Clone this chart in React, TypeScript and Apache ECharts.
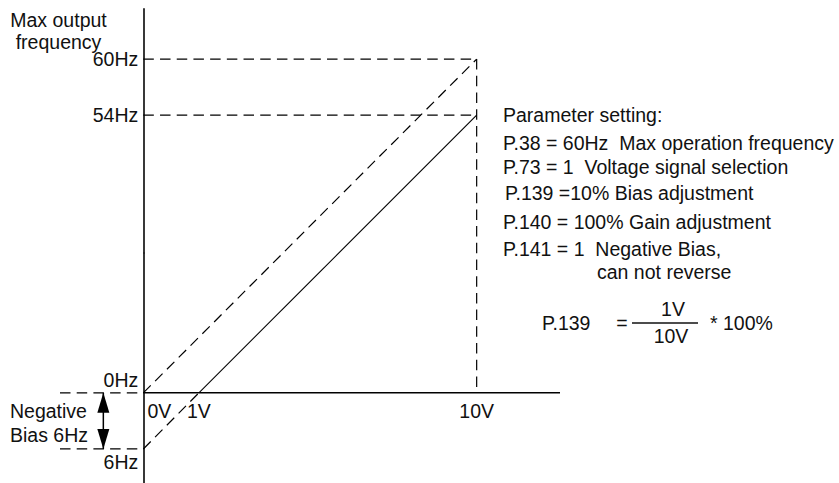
import React, { useEffect, useRef } from 'react';
import * as echarts from 'echarts';

// ---- data (values read from the schematic) ----
const voltTicks = [0, 1, 10];
const voltLabels = ['0V', '1V', '10V'];
const freqTicks = [60, 54, 0, -6];
const freqLabels = ['60Hz', '54Hz', '0Hz', '6Hz'];

// dashed reference: 0V -> 0Hz ... 10V -> 60Hz (max output frequency)
const maxFreqLine = [[0, 0], [10, 60]];
// solid output with negative bias: 1V -> 0Hz ... 10V -> 54Hz
const outputLine = [[1, 0], [10, 54]];
// dashed extension of the output line down to -6Hz at 0V
const biasExtension = [[0, -6], [1, 0]];
// dashed guide lines
const guide60 = [[0, 60], [10, 60]];
const guide54 = [[0, 54], [10, 54]];
const guide10V = [[10, 60], [10, 0]];

const axisTitle = ['Max output', 'frequency'];
const biasNote = ['Negative', 'Bias 6Hz'];
const paramLines = [
  'Parameter setting:',
  'P.38 = 60Hz  Max operation frequency',
  'P.73 = 1  Voltage signal selection',
  'P.139 =10% Bias adjustment',
  'P.140 = 100% Gain adjustment',
  'P.141 = 1  Negative Bias,',
  'can not reverse',
];
const formulaParts = ['P.139', '=', '1V', '10V', '* 100%'];

const FONT = 'Liberation Sans, Arial, Helvetica, sans-serif';
const FS = 19.5;
const INK = '#111111';

function findIdx(arr: number[], v: number) {
  for (let i = 0; i < arr.length; i++) if (Math.abs(arr[i] - v) < 1e-6) return i;
  return -1;
}

const X_LEFT = -1.5; // left end of the outside dashed guides
const X_RIGHT = 11.5;
const ARROW_X = -0.72;

function seg(data: number[][], dashed: boolean, width = 1.2) {
  return {
    type: 'line',
    data,
    symbol: 'none',
    silent: true,
    animation: false,
    lineStyle: { color: '#000', width, type: dashed ? [10.5, 6.2] : 'solid' },
  };
}

function txt(text: string, x: number, y: number, align = 'left') {
  return {
    type: 'text',
    x,
    y,
    silent: true,
    style: {
      text,
      fill: INK,
      fontSize: FS,
      fontFamily: FONT,
      align,
      verticalAlign: 'middle',
    },
  };
}

function buildOption() {
  const paramY = [115, 143, 167, 193, 222, 249, 272];
  const paramX = [503, 503, 503, 505, 503, 503, 597];
  const graphic: any[] = [
    txt(axisTitle[0], 58.5, 20, 'center'),
    txt(axisTitle[1], 58.5, 42, 'center'),
    txt(biasNote[0], 10, 411),
    txt(biasNote[1], 10, 435),
    ...paramLines.map((t, i) => txt(t, paramX[i], paramY[i])),
    txt(formulaParts[0], 542, 323),
    txt(formulaParts[1], 622, 323, 'center'),
    txt(formulaParts[2], 673, 309, 'center'),
    txt(formulaParts[3], 671, 336, 'center'),
    txt(formulaParts[4], 710, 323),
    {
      type: 'line',
      silent: true,
      shape: { x1: 632, y1: 323, x2: 698, y2: 323 },
      style: { stroke: INK, lineWidth: 1.3 },
    },
  ];

  return {
    animation: false,
    backgroundColor: '#ffffff',
    grid: { left: 60, right: 279, top: 9, bottom: 0, containLabel: false, outerBoundsMode: 'none' },
    xAxis: {
      type: 'value',
      min: X_LEFT,
      max: X_RIGHT,
      position: 'bottom',
      offset: -90,
      breaks: [{ start: 3, end: 7, gap: 0 }],
      breakArea: { show: false, itemStyle: { opacity: 0 }, zigzagAmplitude: 0 },
      axisLine: { show: false, onZero: false },
      axisTick: { show: false },
      splitLine: { show: false },
      axisLabel: {
        customValues: voltTicks,
        margin: 8,
        color: INK,
        fontSize: FS,
        fontFamily: FONT,
        formatter: (v: number) => {
          const i = findIdx(voltTicks, v);
          if (i < 0) return '';
          return i === 0 ? `{sh|${voltLabels[i]}}` : `{n|${voltLabels[i]}}`;
        },
        rich: {
          sh: { padding: [0, 0, 0, 32], fontSize: FS, fontFamily: FONT, color: INK },
          n: { fontSize: FS, fontFamily: FONT, color: INK },
        },
      },
    },
    yAxis: {
      type: 'value',
      min: -9.64,
      max: 65.36,
      position: 'left',
      offset: -83.3,
      breaks: [{ start: 15, end: 39.3, gap: 0 }],
      breakArea: { show: false, itemStyle: { opacity: 0 }, zigzagAmplitude: 0 },
      axisLine: { show: true, onZero: false, lineStyle: { color: '#222', width: 1.8 } },
      axisTick: { show: false },
      splitLine: { show: false },
      axisLabel: {
        customValues: freqTicks,
        margin: 5,
        color: INK,
        fontSize: FS,
        fontFamily: FONT,
        formatter: (v: number) => {
          const i = findIdx(freqTicks, v);
          if (i < 0) return '';
          const t = freqLabels[i];
          if (v === 0) return `{up|${t}}`;
          if (v < 0) return `{dn|${t}}`;
          return `{n|${t}}`;
        },
        rich: {
          up: { padding: [0, 0, 26, 0], fontSize: FS, fontFamily: FONT, color: INK },
          dn: { padding: [26, 0, 0, 0], fontSize: FS, fontFamily: FONT, color: INK },
          n: { fontSize: FS, fontFamily: FONT, color: INK },
        },
      },
    },
    series: [
      seg(maxFreqLine, true),
      seg(biasExtension, true),
      seg(outputLine, false, 1.1),
      seg(guide60, true),
      seg(guide54, true),
      seg(guide10V, true),
      seg([[X_LEFT, freqTicks[2]], [voltTicks[0], freqTicks[2]]], true),
      seg([[X_LEFT, freqTicks[3]], [voltTicks[0], freqTicks[3]]], true),
      seg([[voltTicks[0], freqTicks[2]], [X_RIGHT, freqTicks[2]]], false, 1.5),
      {
        type: 'line',
        silent: true,
        animation: false,
        showSymbol: true,
        symbol: 'triangle',
        lineStyle: { color: '#000', width: 1.5 },
        itemStyle: { color: '#000' },
        data: [
          { value: [ARROW_X, freqTicks[2]], symbol: 'triangle', symbolSize: [12, 20], symbolOffset: [0, 10] },
          { value: [ARROW_X, freqTicks[3]], symbol: 'triangle', symbolSize: [12, 20], symbolRotate: 180, symbolOffset: [0, -10] },
        ],
      },
    ],
    graphic,
  };
}

export default function App() {
  const ref = useRef<HTMLDivElement>(null);
  useEffect(() => {
    if (!ref.current) return;
    const chart = echarts.init(ref.current, null, { renderer: 'svg' });
    chart.setOption(buildOption() as any);
    return () => chart.dispose();
  }, []);
  return (
    <div
      ref={ref}
      style={{ position: 'fixed', left: 0, top: 0, width: 839, height: 483, background: '#fff' }}
    />
  );
}
